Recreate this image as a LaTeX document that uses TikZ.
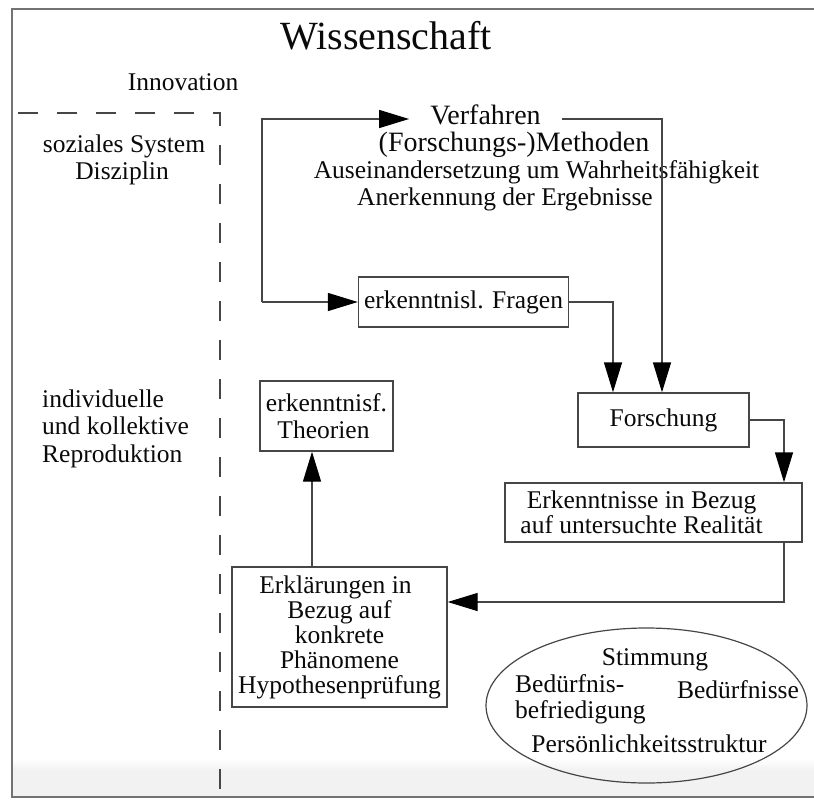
\documentclass[tikz,border=0pt]{standalone}
\usepackage{fontspec}
\setmainfont{Liberation Serif}
\usetikzlibrary{arrows.meta,shapes.geometric,calc}
\definecolor{linegray}{RGB}{70,70,70}
\definecolor{framegray}{RGB}{115,115,115}
\definecolor{bandgray}{RGB}{242,242,242}
\definecolor{txt}{RGB}{10,10,10}
\begin{document}
\begin{tikzpicture}[x=1pt,y=-1pt,
  lbl/.style={inner sep=0pt,text=txt,font=\fontsize{25.5pt}{27pt}\selectfont},
  biglbl/.style={inner sep=0pt,text=txt,font=\fontsize{28pt}{30pt}\selectfont},
  boxnode/.style={draw=linegray,line width=1.4pt,inner sep=0pt,text=txt,align=center,
    font=\fontsize{25.5pt}{25.5pt}\selectfont},
  conn/.style={draw=linegray,line width=1.4pt},
  arr/.style={conn,-{Triangle[length=30pt,width=18pt,color=black,fill=black]}},
  framestyle/.style={draw=framegray,line width=2.5pt},
  dashline/.style={draw=linegray,line width=1.4pt,dash pattern=on 20pt off 19pt}
]
\useasboundingbox (0,0) rectangle (814,800);
% bottom band
\shade[top color=white,bottom color=bandgray] (13,758) rectangle (814,770);
\fill[bandgray] (13,770) rectangle (814,796);
% frame
\draw[framestyle] (814,9) -- (12,9) -- (12,797) -- (814,797);
% dashed boundary
\draw[dashline] (18,113) -- (220,113) -- (220,797);

% titles and side labels
\node[inner sep=0pt,text=txt,font=\fontsize{40pt}{42pt}\selectfont,anchor=base] (title) at (386,50) {Wissenschaft};
\node[lbl,anchor=base] (innov) at (183,91) {Innovation};
\node[lbl,anchor=base] (soz) at (124,152) {soziales System};
\node[lbl,anchor=base] (disz) at (122,179) {Disziplin};
\node[lbl,anchor=base west] (ind1) at (42,407) {individuelle};
\node[lbl,anchor=base west] (ind2) at (42,434) {und kollektive};
\node[lbl,anchor=base west] (ind3) at (42,462) {Reproduktion};

% Verfahren block
\node[biglbl,anchor=base,inner xsep=21pt] (verf) at (485.5,124) {Verfahren};
\node[biglbl,anchor=base] (meth) at (514,151) {(Forschungs-)Methoden};
\node[lbl,anchor=base] (ausein) at (536.5,178) {Auseinandersetzung um Wahrheitsfähigkeit};
\node[lbl,anchor=base] (anerk) at (505,205) {Anerkennung der Ergebnisse};

% boxes
\node[boxnode,minimum width=210pt,minimum height=50pt] (fragen) at (463.5,302) {erkenntnisl. Fragen};
\node[boxnode,minimum width=171pt,minimum height=54pt] (forsch) at (663.5,420) {Forschung};
\node[boxnode,minimum width=133pt,minimum height=70pt,font=\fontsize{25.5pt}{27pt}\selectfont] (theor) at (326.5,416) {erkenntnisf.\\Theorien\hspace*{6pt}};
\node[boxnode,minimum width=297pt,minimum height=59pt,font=\fontsize{25.5pt}{23pt}\selectfont] (erk) at (653.5,512.5) {Erkenntnisse in Bezug\hspace*{24pt}\\auf untersuchte Realität\hspace*{24pt}};
\node[boxnode,minimum width=215pt,minimum height=140pt,font=\fontsize{25.5pt}{25pt}\selectfont] (erkl) at (339.5,637) {Erklärungen in\hspace*{8pt}\\Bezug auf\\konkrete\hspace*{30pt}\\Phänomene\hspace*{30pt}\\Hypothesenprüfung};

% ellipse
\node[draw=linegray,line width=1.2pt,ellipse,minimum width=321pt,minimum height=155pt,inner sep=0pt] (ell) at (646.5,705.5) {};
\node[lbl,anchor=base] (stim) at (655,665) {Stimmung};
\node[lbl,anchor=base west] (bed1) at (515,692) {Bedürfnis-};
\node[lbl,anchor=base west] (bed2) at (515,718) {befriedigung};
\node[lbl,anchor=base] (bedn) at (738,698) {Bedürfnisse};
\node[lbl,anchor=base] (pers) at (649,752) {Persönlichkeitsstruktur};

% connectors
\coordinate (jn) at (262,302);
\draw[arr] (jn) |- ([yshift=5pt]verf.base west);
\draw[arr] (jn) -- (fragen.west);
\draw[arr] ([yshift=5pt]verf.base east) -| (forsch.north -| 662,0);
\draw[arr] (fragen.east) -| (forsch.north -| 613,0);
\draw[arr] (forsch.east) -| (erk.north -| 784,0);
\coordinate (bend) at (784,602);
\draw[arr] (erk.south -| bend) -- (bend) -- (erkl.east |- bend);
\draw[arr] (erkl.north -| 312,0) -- (theor.south -| 312,0);
\end{tikzpicture}
\end{document}
